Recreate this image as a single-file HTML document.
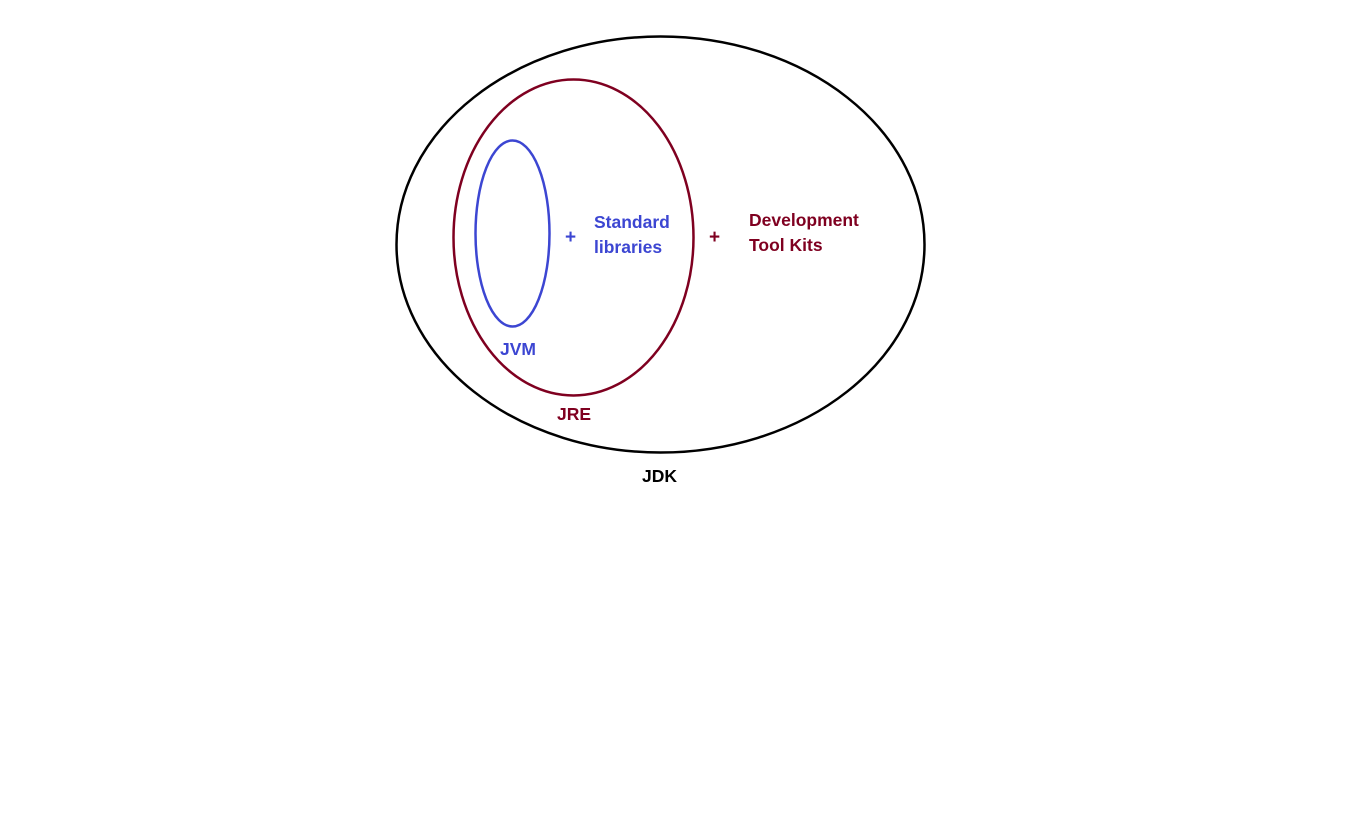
<!DOCTYPE html>
<html><head><meta charset="utf-8"><style>
html,body{margin:0;padding:0;background:#fff;width:1358px;height:831px;overflow:hidden}
svg text{font-family:"Liberation Sans",sans-serif;font-weight:bold;font-size:17.5px}
</style></head><body>
<svg width="1358" height="831">
<ellipse cx="660.5" cy="244.5" rx="264" ry="208" fill="none" stroke="#000" stroke-width="2.5"/>
<ellipse cx="573.5" cy="237.5" rx="120" ry="158" fill="none" stroke="#7f0020" stroke-width="2.5"/>
<ellipse cx="512.5" cy="233.5" rx="37" ry="93" fill="none" stroke="#3c46d2" stroke-width="2.5"/>
<text x="500" y="355" fill="#3c46d2">JVM</text>
<text x="565" y="243" fill="#3c46d2" style="font-size:19px">+</text>
<text x="594" y="228" fill="#3c46d2">Standard</text>
<text x="594" y="253" fill="#3c46d2">libraries</text>
<text x="557" y="420" fill="#7f0020">JRE</text>
<text x="709" y="243" fill="#7f0020" style="font-size:19px">+</text>
<text x="749" y="226" fill="#7f0020">Development</text>
<text x="749" y="251" fill="#7f0020">Tool Kits</text>
<text x="642" y="482" fill="#000">JDK</text>
</svg>
</body></html>
